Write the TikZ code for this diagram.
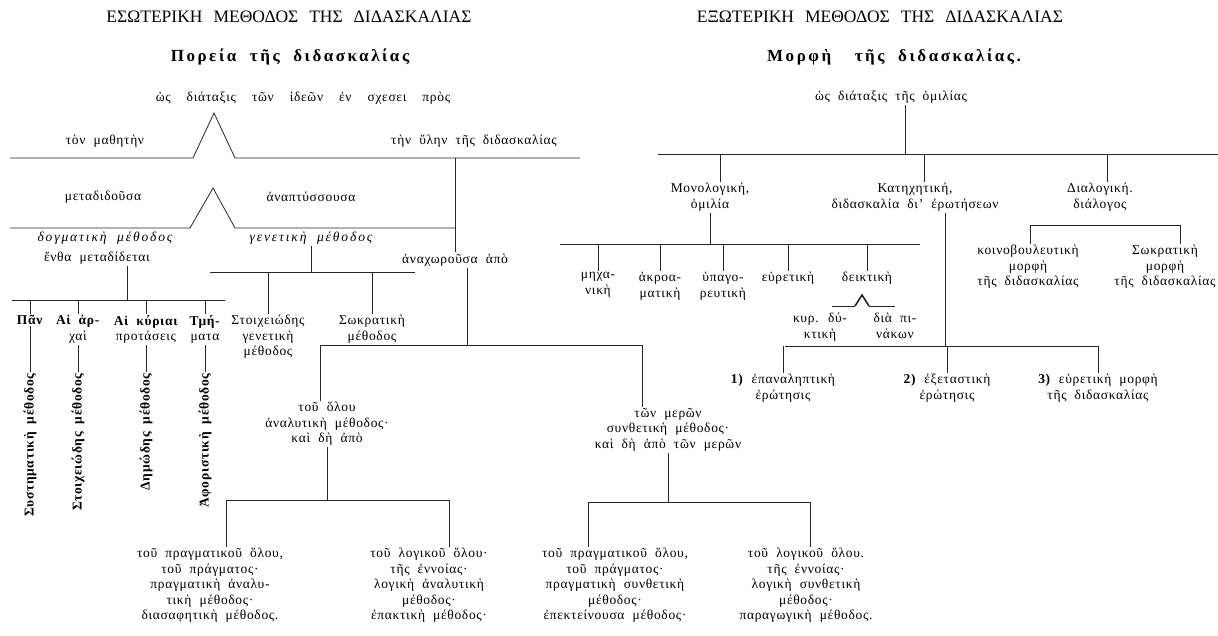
\documentclass[tikz,border=0pt]{standalone}
\usepackage{fontspec}
\setmainfont{Liberation Serif}[LetterSpace=5, WordSpace=2]
\newfontfamily\headfont{Liberation Serif}[WordSpace=2.5]
\def\rowsep{15.5}

\begin{document}
\begin{tikzpicture}[x=1pt, y=-1pt, line width=0.8pt, draw=black!85]
    \tikzstyle{word}=[inner sep=1pt, align=center, font=\fontsize{13.5}{\rowsep}\selectfont]
    \tikzstyle{slant}=[word, font=\fontsize{13.5}{\rowsep}\selectfont\itshape\addfontfeature{LetterSpace=14}]
    \tikzstyle{branch}=[word, anchor=north]
    \tikzstyle{vword}=[word, font=\fontsize{13.5}{\rowsep}\selectfont\bfseries, rotate=90, anchor=east]
    \tikzstyle{heading}=[inner sep=1pt, font=\headfont\fontsize{17.5}{20}\selectfont]
    \tikzstyle{subheading}=[inner sep=1pt, font=\fontsize{17}{20}\selectfont\bfseries\addfontfeature{LetterSpace=15}]
    \tikzstyle{wedge}=[line width=1.6pt]

    \useasboundingbox (0,0) rectangle (1218,636);

    % Left half: the course of teaching
    \node[heading] (T-L) at (289,17) {ΕΣΩΤΕΡΙΚΗ ΜΕΘΟΔΟΣ ΤΗΣ ΔΙΔΑΣΚΑΛΙΑΣ};
    \node[subheading] (S-L) at (290,57) {Πορεία τῆς διδασκαλίας};
    \node[word] (W-L) at (303,98) {\spaceskip=16pt ὡς διάταξις τῶν ἰδεῶν ἐν σχεσει πρὸς};

    % first split
    \coordinate (V-1) at (214,113);
    \coordinate (B1-a) at (10,158);
    \coordinate (B1-b) at (193,158);
    \coordinate (B1-c) at (235,158);
    \coordinate (B1-d) at (580,158);
    \draw (B1-a) -- (B1-b) -- (V-1) -- (B1-c) -- (B1-d);
    \node[word] (mat) at (105,141) {τὸν μαθητὴν};
    \node[word] (ule) at (474,141) {τὴν ὕλην τῆς διδασκαλίας};

    % second split
    \coordinate (V-2) at (213,188);
    \coordinate (B2-a) at (10,228);
    \coordinate (B2-b) at (190,228);
    \coordinate (B2-c) at (235,228);
    \coordinate (B2-d) at (455,228);
    \draw (B2-a) -- (B2-b) -- (V-2) -- (B2-c) -- (B2-d);
    \node[word] (mdd) at (103,197) {μεταδιδοῦσα};
    \node[word] (anp) at (311,197) {ἀναπτύσσουσα};

    \node[slant] (dog) at (105,238) {δογματικὴ μέθοδος};
    \node[word] (enth) at (97,258) {ἔνθα μεταδίδεται};
    \node[slant] (gen) at (311,238) {γενετικὴ μέθοδος};
    \node[word] (anx) at (455,260) {ἀναχωροῦσα ἀπὸ};
    \draw (anx.north |- B1-d) -- (anx.north);

    % dogmatic branch
    \coordinate (B4-a) at (12,300);
    \coordinate (B4-b) at (225,300);
    \coordinate (X-1) at (127,300);
    \draw (B4-a) -- (B4-b);
    \draw (X-1) -- (X-1 |- enth.south);
    \foreach \name/\x/\txt/\vtxt in {1/30/{\textbf{Πᾶν}}/{Συστηματικὴ μέθοδος},
        2/78/{\textbf{Αἱ ἀρ-}\\χαὶ}/{Στοιχειώδης μέθοδος},
        3/146/{\textbf{Αἱ κύριαι}\\προτάσεις}/{Δημώδης μέθοδος},
        4/205/{\textbf{Τμή-}\\ματα}/{Ἀφοριστικὴ μέθοδος}}
    {
        \node[branch] (P-\name) at (\x,314) {\txt};
        \node[vword] (R-\name) at (\x,372) {\vtxt};
        \draw (P-\name.north) -- (P-\name.north |- B4-a);
        \draw (P-\name.south) -- (R-\name.east);
    }

    % genetic branch
    \coordinate (B3-a) at (210,272);
    \coordinate (B3-b) at (415,272);
    \draw (B3-a) -- (B3-b);
    \draw (gen.south) -- (gen.south |- B3-a);
    \node[branch] (G-1) at (268,314) {Στοιχειώδης\\γενετικὴ\\μέθοδος};
    \node[branch] (G-2) at (372,314) {Σωκρατικὴ\\μέθοδος};
    \foreach \name in {1,2}
        \draw (G-\name.north) -- (G-\name.north |- B3-a);

    % analytic and synthetic
    \coordinate (B5-a) at (320,345);
    \coordinate (B5-b) at (642,345);
    \coordinate (X-2) at (467,345);
    \draw (B5-a) -- (B5-b);
    \draw (X-2) -- (X-2 |- anx.south);
    \node[branch] (O-1) at (327,401) {τοῦ ὅλου\\ἀναλυτικὴ μέθοδος·\\καὶ δὴ ἀπὸ};
    \node[branch] (O-2) at (668,407) {τῶν μερῶν\\συνθετικὴ μέθοδος·\\καὶ δὴ ἀπὸ τῶν μερῶν};
    \draw (B5-a) -- (B5-a |- O-1.north);
    \draw (B5-b) -- (B5-b |- O-2.north);

    \coordinate (B6-a) at (226,500);
    \coordinate (B6-b) at (449,500);
    \draw (B6-a) -- (B6-b);
    \draw (O-1.south) -- (O-1.south |- B6-a);
    \node[branch] (Q-1) at (210,547) {τοῦ πραγματικοῦ ὅλου,\\τοῦ πράγματος·\\πραγματικὴ ἀναλυ-\\τικὴ μέθοδος·\\διασαφητικὴ μέθοδος.};
    \node[branch] (Q-2) at (429,547) {τοῦ λογικοῦ ὅλου·\\τῆς ἐννοίας·\\λογικὴ ἀναλυτικὴ\\μέθοδος·\\ἐπακτικὴ μέθοδος·};
    \draw (B6-a) -- (B6-a |- Q-1.north);
    \draw (B6-b) -- (B6-b |- Q-2.north);

    \coordinate (B7-a) at (588,502);
    \coordinate (B7-b) at (810,502);
    \draw (B7-a) -- (B7-b);
    \draw (O-2.south) -- (O-2.south |- B7-a);
    \node[branch] (Q-3) at (615,547) {τοῦ πραγματικοῦ ὅλου,\\τοῦ πράγματος·\\πραγματικὴ συνθετικὴ\\μέθοδος·\\ἐπεκτείνουσα μέθοδος·};
    \node[branch] (Q-4) at (806,547) {τοῦ λογικοῦ ὅλου.\\τῆς ἐννοίας·\\λογικὴ συνθετικὴ\\μέθοδος·\\παραγωγικὴ μέθοδος.};
    \draw (B7-a) -- (B7-a |- Q-3.north);
    \draw (B7-b) -- (B7-b |- Q-4.north);

    % Right half: the form of teaching
    \node[heading] (T-R) at (880,17) {ΕΞΩΤΕΡΙΚΗ ΜΕΘΟΔΟΣ ΤΗΣ ΔΙΔΑΣΚΑΛΙΑΣ};
    \node[subheading] (S-R) at (894,57) {Μορφὴ\hspace{10pt} τῆς διδασκαλίας.};
    \node[word] (W-R) at (891,97) {ὡς διάταξις τῆς ὁμιλίας};

    \coordinate (B8-a) at (658,154);
    \coordinate (B8-b) at (1218,154);
    \coordinate (X-3) at (905,154);
    \draw (B8-a) -- (B8-b);
    \draw (X-3) -- (X-3 |- W-R.south);
    \foreach \name/\x/\vx/\txt in {1/710/720/{Μονολογική,\\ὁμιλία},
        2/915/924/{Κατηχητική,\\διδασκαλία δι’ ἐρωτήσεων},
        3/1100/1107/{Διαλογική.\\διάλογος}}
    {
        \node[branch] (M-\name) at (\x,182) {\txt};
        \draw (\vx,154) -- (\vx,0 |- M-\name.north);
    }

    % monologue
    \coordinate (B9-a) at (560,244);
    \coordinate (B9-b) at (920,244);
    \draw (B9-a) -- (B9-b);
    \draw (M-1.south) -- (M-1.south |- B9-a);
    \foreach \name/\x/\txt in {1/598/{μηχα-\\νικὴ}, 2/660/{ἀκροα-\\ματικὴ},
        3/723/{ὑπαγο-\\ρευτικὴ}, 4/788/{εὑρετικὴ}, 5/867/{δεικτικὴ}}
    {
        \node[branch] (U-\name) at (\x,271) {\txt};
        \draw (U-\name.north) -- (U-\name.north |- B9-a);
    }
    \coordinate (V-3) at (862,295);
    \coordinate (K-a) at (832,306);
    \coordinate (K-b) at (855,306);
    \coordinate (K-c) at (869,306);
    \coordinate (K-d) at (895,306);
    \draw (K-a) -- (K-b);
    \draw[wedge] (K-b) -- (V-3) -- (K-c);
    \draw (K-c) -- (K-d);
    \node[branch] (K-1) at (820,312) {κυρ. δύ-\\κτικὴ};
    \node[branch] (K-2) at (895,312) {διὰ πι-\\νάκων};

    % catechesis
    \coordinate (B10-a) at (785,346);
    \coordinate (B10-b) at (1098,346);
    \coordinate (X-4) at (945,346);
    \draw (B10-a) -- (B10-b);
    \draw (X-4) -- (X-4 |- M-2.south);
    \foreach \name/\x/\txt in {1/783/{\textbf{1)} ἐπαναληπτικὴ\\ἐρώτησις},
        2/947/{\textbf{2)} ἐξεταστικὴ\\ἐρώτησις},
        3/1098/{\textbf{3)} εὑρετικὴ μορφὴ\\τῆς διδασκαλίας}}
    {
        \node[branch] (C-\name) at (\x,373) {\txt};
        \draw (C-\name.north) -- (C-\name.north |- B10-a);
    }

    % dialogue
    \coordinate (B11-a) at (1030,225);
    \coordinate (B11-b) at (1180,225);
    \draw (B11-a) -- (B11-b);
    \node[branch] (D-1) at (1028,244) {κοινοβουλευτικὴ\\μορφὴ\\τῆς διδασκαλίας};
    \node[branch] (D-2) at (1165,244) {Σωκρατικὴ\\μορφὴ\\τῆς διδασκαλίας};
    \draw (B11-a) -- (B11-a |- D-1.north);
    \draw (B11-b) -- (B11-b |- D-2.north);
\end{tikzpicture}
\end{document}
